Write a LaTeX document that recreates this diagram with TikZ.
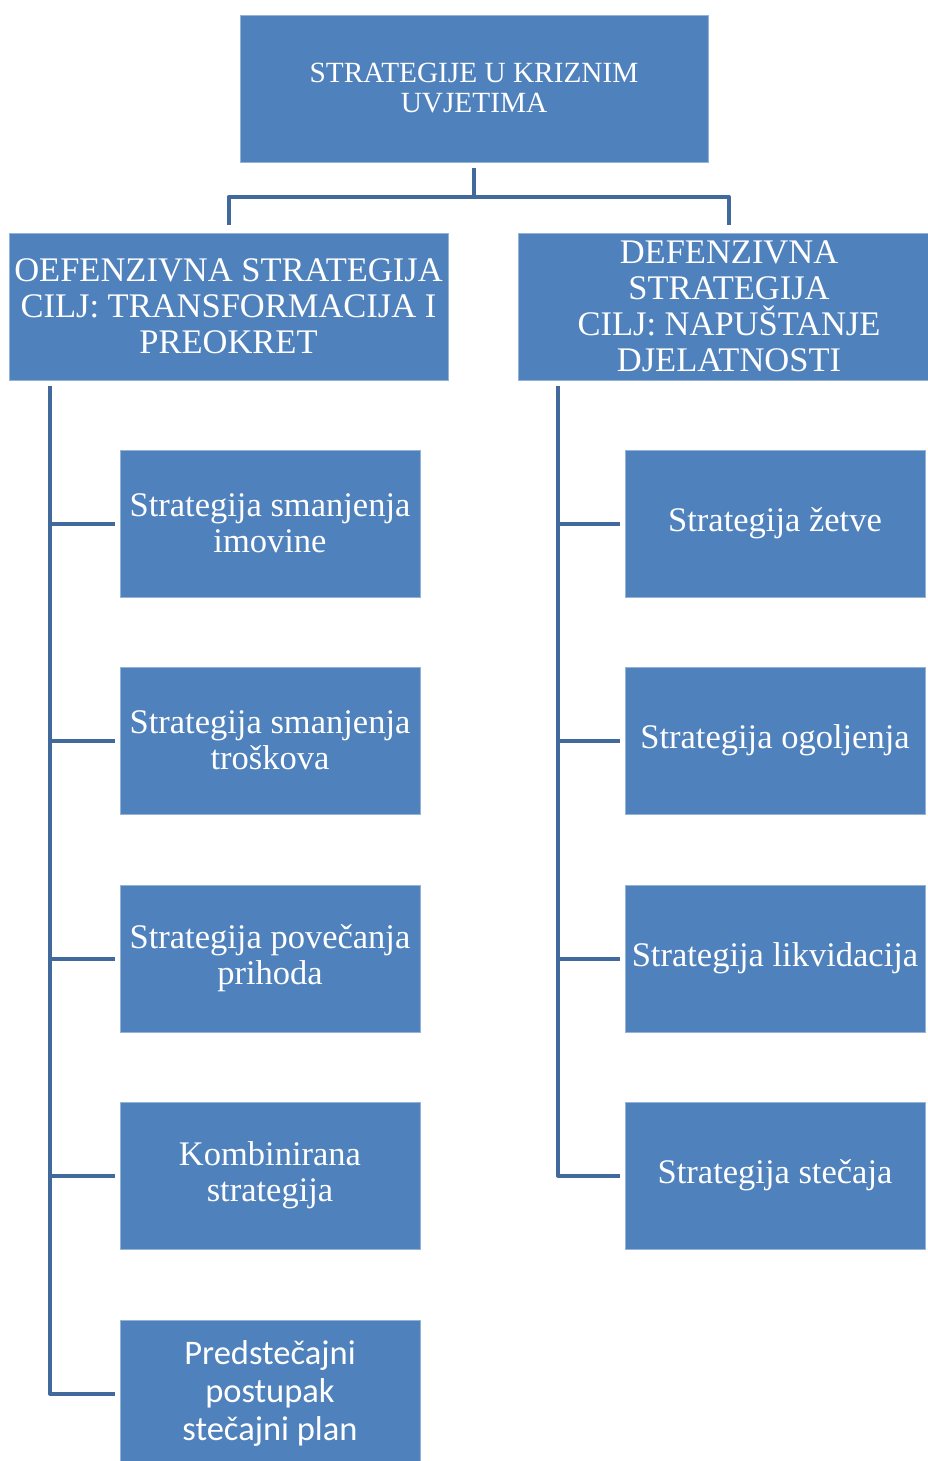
\documentclass[tikz,border=0pt]{standalone}
\usepackage{fontspec}
\setmainfont{Liberation Serif}
\newfontfamily\calib{Carlito}
\definecolor{boxblue}{HTML}{4F81BD}
\definecolor{linkblue}{HTML}{41699C}
\begin{document}
\begin{tikzpicture}[x=1pt,y=-1pt,
  box/.style={fill=boxblue,draw=boxblue!60!white,line width=0.6pt,text=white,align=center,
    minimum height=147pt,inner sep=0pt,anchor=center},
  link/.style={draw=linkblue,line width=4pt,line join=round}]
\useasboundingbox (0,0) rectangle (928,1461);
\node[box,minimum width=468pt,font=\fontsize{29.3}{30}\selectfont] (top) at (474,88.5) {STRATEGIJE U KRIZNIM\\UVJETIMA};
\node[box,minimum width=439pt,font=\fontsize{34.5}{36}\selectfont] (L) at (228.5,306.5) {OEFENZIVNA STRATEGIJA\\CILJ: TRANSFORMACIJA I\\PREOKRET};
\node[box,minimum width=422pt,font=\fontsize{34.5}{36}\selectfont] (R) at (729,306.5) {DEFENZIVNA\\STRATEGIJA\\CILJ: NAPUŠTANJE\\DJELATNOSTI};
\begin{scope}[every node/.style={box,minimum width=300pt,font=\fontsize{34.5}{36}\selectfont}]
\node (l1) at (270,523.5) {Strategija smanjenja\\imovine};
\node (l2) at (270,740.5) {Strategija smanjenja\\troškova};
\node (l3) at (270,958.5) {Strategija povečanja\\prihoda};
\node (l4) at (270,1175.5) {Kombinirana\\strategija};
\node[font=\calib\fontsize{34.5}{38}\selectfont] (l5) at (270,1393.5) {Predstečajni\\postupak\\stečajni plan};
\node (r1) at (775,523.5) {Strategija žetve};
\node (r2) at (775,740.5) {Strategija ogoljenja};
\node (r3) at (775,958.5) {Strategija likvidacija};
\node (r4) at (775,1175.5) {Strategija stečaja};
\end{scope}
% top connectors
\coordinate (bar) at (474,197);
\draw[link,shorten <=6pt] (top.south) -- (bar);
\draw[link,shorten >=8pt] (bar) -| (L.north);
\draw[link,shorten >=8pt] (bar) -| (R.north);
% trunks
\coordinate (lt) at (50,386);
\coordinate (rt) at (558,386);
\foreach \c in {l1,l2,l3,l4,l5} \draw[link,shorten >=5pt] (lt) |- (\c.west);
\foreach \c in {r1,r2,r3,r4} \draw[link,shorten >=5pt] (rt) |- (\c.west);
\end{tikzpicture}
\end{document}
